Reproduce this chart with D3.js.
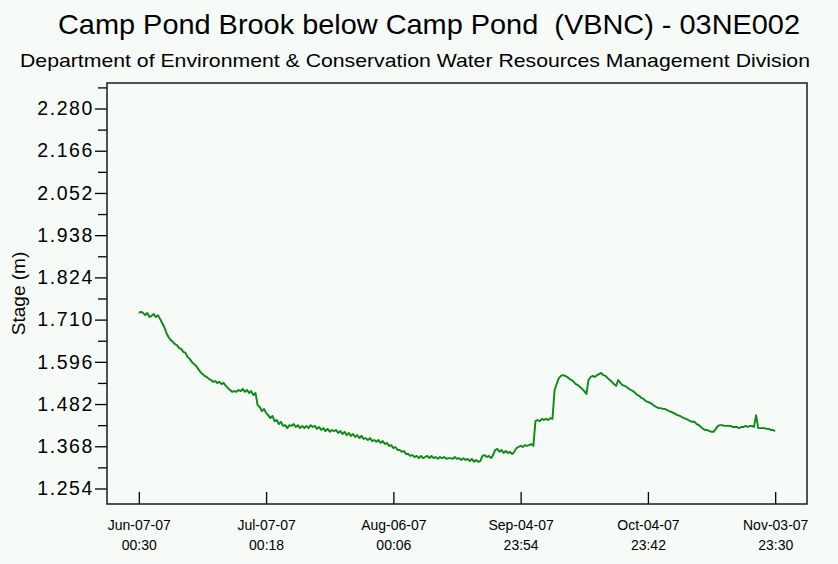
<!DOCTYPE html>
<html>
<head>
<meta charset="utf-8">
<script src="https://cdn.jsdelivr.net/npm/d3@7"></script>
<style>
  html, body { margin: 0; padding: 0; background: #f6fbf8; }
  svg { display: block; }
  text { font-family: "Liberation Sans", Arial, sans-serif; fill: #000; }
</style>
</head>
<body>
<svg id="chart" width="838" height="564"></svg>
<script>
// Station record: Camp Pond Brook below Camp Pond, stage (m), readings evenly spaced
const chartTitle = "Camp Pond Brook below Camp Pond  (VBNC) - 03NE002";
const chartSubtitle = "Department of Environment & Conservation Water Resources Management Division";
const yAxisTitle = "Stage (m)";

const recordStart = "2007-06-07 00:30";
const recordEnd = "2007-11-03 23:30";

const stage = [
  1.728,1.731,1.728,1.722,1.728,1.717,1.720,1.725,1.717,1.722,
  1.712,1.701,1.690,1.674,1.663,1.655,1.650,1.644,1.641,1.633,
  1.631,1.623,1.620,1.609,1.604,1.596,1.590,1.585,1.577,1.569,
  1.563,1.558,1.555,1.550,1.547,1.542,1.544,1.539,1.542,1.536,
  1.539,1.531,1.525,1.520,1.515,1.517,1.515,1.520,1.517,1.523,
  1.515,1.520,1.512,1.517,1.506,1.512,1.479,1.474,1.463,1.469,
  1.458,1.452,1.444,1.450,1.436,1.439,1.428,1.434,1.423,1.425,
  1.417,1.425,1.423,1.428,1.420,1.425,1.417,1.423,1.417,1.423,
  1.417,1.425,1.420,1.423,1.415,1.420,1.412,1.417,1.409,1.415,
  1.407,1.412,1.409,1.412,1.404,1.409,1.401,1.407,1.398,1.404,
  1.396,1.401,1.393,1.398,1.390,1.396,1.388,1.390,1.385,1.390,
  1.382,1.385,1.380,1.385,1.377,1.382,1.374,1.377,1.369,1.371,
  1.363,1.366,1.358,1.358,1.353,1.355,1.347,1.347,1.342,1.344,
  1.339,1.342,1.336,1.342,1.336,1.339,1.342,1.336,1.342,1.336,
  1.339,1.334,1.339,1.336,1.339,1.334,1.336,1.336,1.334,1.339,
  1.334,1.336,1.331,1.336,1.331,1.334,1.328,1.334,1.326,1.331,
  1.326,1.328,1.342,1.344,1.339,1.342,1.336,1.344,1.358,1.361,
  1.353,1.358,1.350,1.355,1.350,1.353,1.347,1.353,1.363,1.366,
  1.369,1.366,1.371,1.369,1.371,1.374,1.369,1.436,1.439,1.436,
  1.442,1.439,1.442,1.439,1.444,1.442,1.520,1.536,1.552,1.558,
  1.560,1.558,1.555,1.550,1.547,1.542,1.536,1.533,1.528,1.523,
  1.517,1.509,1.547,1.555,1.558,1.555,1.560,1.563,1.566,1.560,
  1.558,1.552,1.547,1.542,1.536,1.531,1.547,1.539,1.533,1.531,
  1.528,1.523,1.520,1.517,1.512,1.506,1.504,1.498,1.496,1.490,
  1.488,1.485,1.482,1.477,1.474,1.471,1.471,1.469,1.469,1.466,
  1.463,1.461,1.458,1.455,1.452,1.450,1.447,1.444,1.442,1.439,
  1.436,1.434,1.434,1.428,1.425,1.420,1.415,1.412,1.412,1.409,
  1.407,1.407,1.415,1.423,1.425,1.425,1.423,1.423,1.423,1.423,
  1.420,1.420,1.420,1.417,1.420,1.420,1.423,1.420,1.423,1.423,
  1.420,1.452,1.417,1.417,1.417,1.417,1.415,1.415,1.412,1.412,1.409
];

// Axis ticks
const yMajorTicks = [1.254, 1.368, 1.482, 1.596, 1.710, 1.824, 1.938, 2.052, 2.166, 2.280];
const yMinorTicks = [1.311, 1.425, 1.539, 1.653, 1.767, 1.881, 1.995, 2.109, 2.223, 2.337];
const yDomain = [1.2121, 2.3489];
const xTickTimes = ["2007-06-07 00:30", "2007-07-07 00:18", "2007-08-06 00:06",
                    "2007-09-04 23:54", "2007-10-04 23:42", "2007-11-03 23:30"];

const parseTime = d3.timeParse("%Y-%m-%d %H:%M");
const t0 = parseTime(recordStart), t1 = parseTime(recordEnd);
const stepMs = (t1 - t0) / (stage.length - 1);
const series = stage.map((v, i) => ({ t: new Date(+t0 + i * stepMs), v }));

const plot = { left: 107, right: 807, top: 83, bottom: 504 };
const pad = (t1 - t0) * 0.05;

const x = d3.scaleTime()
  .domain([new Date(+t0 - pad), new Date(+t1 + pad)])
  .range([plot.left, plot.right]);
const y = d3.scaleLinear().domain(yDomain).range([plot.bottom, plot.top]);

const svg = d3.select("#chart");

// Titles
svg.append("text")
  .attr("x", 429).attr("y", 34)
  .attr("text-anchor", "middle")
  .attr("xml:space", "preserve")
  .attr("textLength", 742)
  .attr("lengthAdjust", "spacingAndGlyphs")
  .style("font-size", "28px")
  .text(chartTitle);

svg.append("text")
  .attr("x", 415).attr("y", 67)
  .attr("text-anchor", "middle")
  .attr("textLength", 790)
  .attr("lengthAdjust", "spacingAndGlyphs")
  .style("font-size", "19px")
  .text(chartSubtitle);

// Y axis label
svg.append("text")
  .attr("transform", `translate(25,${(plot.top + plot.bottom) / 2}) rotate(-90)`)
  .attr("text-anchor", "middle")
  .style("font-size", "19px")
  .text(yAxisTitle);

// Y axis: major ticks with labels, minor ticks without
const yMajor = svg.append("g")
  .attr("transform", `translate(${plot.left},0)`)
  .call(d3.axisLeft(y).tickValues(yMajorTicks).tickSize(12).tickPadding(1)
    .tickFormat(d3.format(".3f")));
yMajor.select(".domain").remove();
yMajor.selectAll("line").attr("stroke", "#000").attr("stroke-width", 1.3);
yMajor.selectAll("text")
  .style("font-size", "19.5px")
  .style("letter-spacing", "1.6px")
  .style("font-family", "'Liberation Sans', Arial, sans-serif")
  .attr("fill", "#000");

const yMinor = svg.append("g")
  .attr("transform", `translate(${plot.left},0)`)
  .call(d3.axisLeft(y).tickValues(yMinorTicks.filter(v => v >= yDomain[0] && v <= yDomain[1]))
    .tickSize(9).tickFormat(""));
yMinor.select(".domain").remove();
yMinor.selectAll("line").attr("stroke", "#000").attr("stroke-width", 1.3);

// X axis: inward ticks, two-line labels
const xTicks = xTickTimes.map(parseTime);
const xTickG = svg.append("g")
  .attr("transform", `translate(0,${plot.bottom})`)
  .call(d3.axisTop(x).tickValues(xTicks).tickSize(12).tickFormat(""));
xTickG.select(".domain").remove();
xTickG.selectAll("line").attr("stroke", "#000").attr("stroke-width", 1.3);

const fmtDate = d3.timeFormat("%b-%d-%y");
const fmtTime = d3.timeFormat("%H:%M");
const xLabelG = svg.append("g")
  .attr("transform", `translate(0,${plot.bottom})`)
  .call(d3.axisBottom(x).tickValues(xTicks).tickSize(0).tickFormat(""));
xLabelG.select(".domain").remove();
xLabelG.selectAll(".tick").each(function (d) {
  const t = d3.select(this).append("text")
    .attr("text-anchor", "middle")
    .style("font-size", "14px")
    .attr("fill", "#000");
  t.append("tspan").attr("x", 0).attr("y", 26).text(fmtDate(d));
  t.append("tspan").attr("x", 0).attr("y", 46).text(fmtTime(d));
});

// Stage trace
const line = d3.line().x(d => x(d.t)).y(d => y(d.v));
svg.append("path")
  .datum(series)
  .attr("fill", "none")
  .attr("stroke", "#0a8a12")
  .attr("stroke-width", 1.9)
  .attr("stroke-linejoin", "round")
  .attr("d", line);

// Plot frame
svg.append("rect")
  .attr("x", plot.left).attr("y", plot.top)
  .attr("width", plot.right - plot.left).attr("height", plot.bottom - plot.top)
  .attr("fill", "none")
  .attr("stroke", "#1a1a1a")
  .attr("stroke-width", 1.5);
</script>
</body>
</html>
